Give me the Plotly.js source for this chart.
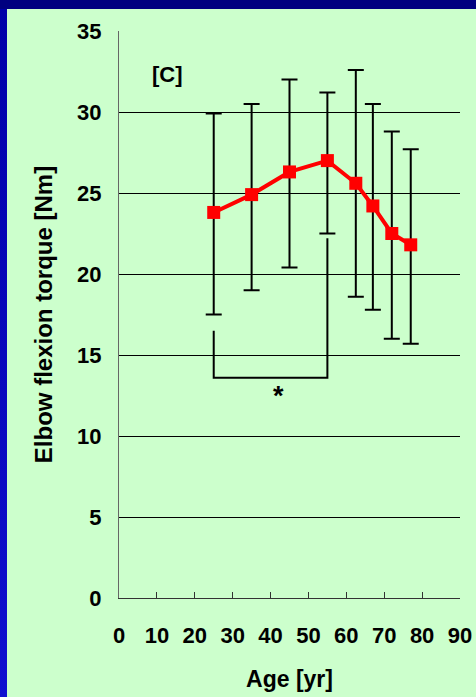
<!DOCTYPE html>
<html>
<head>
<meta charset="utf-8">
<script src="https://cdn.plot.ly/plotly-3.0.1.min.js"></script>
<style>
  html, body { margin: 0; padding: 0; width: 476px; height: 697px; overflow: hidden; background: #000080; }
  #leftband { position: absolute; left: 0; top: 9px; width: 7px; height: 688px; background: linear-gradient(to bottom, #0000a8, #1010d0); }
  #chart { position: absolute; left: 7px; top: 9px; width: 469px; height: 688px; }
</style>
</head>
<body>
<div id="leftband"></div>
<div id="chart"></div>
<script>
// Age groups (yr) and mean elbow flexion torque (Nm)
const ages = [25, 35, 45, 55, 62.5, 67, 72, 77];
const torqueMean = [23.8, 24.9, 26.3, 27.0, 25.6, 24.2, 22.5, 21.8];
// Upper and lower ends of the error bars (Nm)
const torqueUpper = [29.9, 30.5, 32.0, 31.2, 32.6, 30.5, 28.8, 27.7];
const torqueLower = [17.5, 19.0, 20.4, 22.5, 18.6, 17.8, 16.0, 15.7];
// Significance bracket between the 25 and 55 yr groups
const bracketX = [25, 25, 55, 55];
const bracketY = [16.5, 13.6, 13.6, 22.2];
const starPos = [42, 12.5];
// Axis ticks
const xTicks = [0, 10, 20, 30, 40, 50, 60, 70, 80, 90];
const yTicks = [0, 5, 10, 15, 20, 25, 30, 35];

const errPlus = torqueUpper.map((u, i) => u - torqueMean[i]);
const errMinus = torqueLower.map((l, i) => torqueMean[i] - l);

const FONT = 'Liberation Sans, Arial, sans-serif';

const traces = [
  {
    x: bracketX, y: bracketY, type: 'scatter', mode: 'lines',
    line: { color: '#000000', width: 2 }, hoverinfo: 'skip', showlegend: false
  },
  {
    x: ages, y: torqueMean, type: 'scatter', mode: 'lines+markers',
    line: { color: '#ff0000', width: 4 },
    marker: { symbol: 'square', size: 13, color: '#ff0000' },
    error_y: { type: 'data', symmetric: false, array: errPlus, arrayminus: errMinus,
               color: '#000000', thickness: 2, width: 8 },
    showlegend: false
  }
];

const layout = {
  width: 469, height: 688,
  margin: { l: 112, r: 16, t: 22, b: 99 },
  paper_bgcolor: '#ccffcc', plot_bgcolor: '#ccffcc',
  showlegend: false,
  xaxis: {
    range: [0, 90], tickvals: xTicks, ticktext: xTicks.map(String),
    ticks: 'inside', ticklen: 6, tickwidth: 1, tickcolor: '#333333',
    showline: true, linecolor: '#333333', linewidth: 1,
    showgrid: false, zeroline: false, fixedrange: true,
    ticklabelstandoff: 18,
    tickfont: { family: FONT, size: 22, color: '#000000', weight: 'bold' },
    title: { text: 'Age [yr]', standoff: 23, font: { family: FONT, size: 23, color: '#000000', weight: 'bold' } }
  },
  yaxis: {
    range: [0, 35], tickvals: yTicks, ticktext: yTicks.map(String),
    ticks: '', showline: true, linecolor: '#666666', linewidth: 1,
    showgrid: true, gridcolor: '#000000', gridwidth: 1,
    zeroline: false, fixedrange: true,
    ticklabelstandoff: 12,
    tickfont: { family: FONT, size: 22, color: '#000000', weight: 'bold' },
    title: { text: 'Elbow flexion torque [Nm]', standoff: 17, font: { family: FONT, size: 24, color: '#000000', weight: 'bold' } }
  },
  annotations: [
    { x: 12.7, y: 32.3, xref: 'x', yref: 'y', text: '[C]', showarrow: false,
      font: { family: FONT, size: 22, color: '#000000', weight: 'bold' } },
    { x: starPos[0], y: starPos[1], xref: 'x', yref: 'y', text: '*', showarrow: false,
      font: { family: FONT, size: 27, color: '#000000', weight: 'bold' } }
  ]
};

Plotly.newPlot('chart', traces, layout, { displayModeBar: false, staticPlot: true });
</script>
</body>
</html>
